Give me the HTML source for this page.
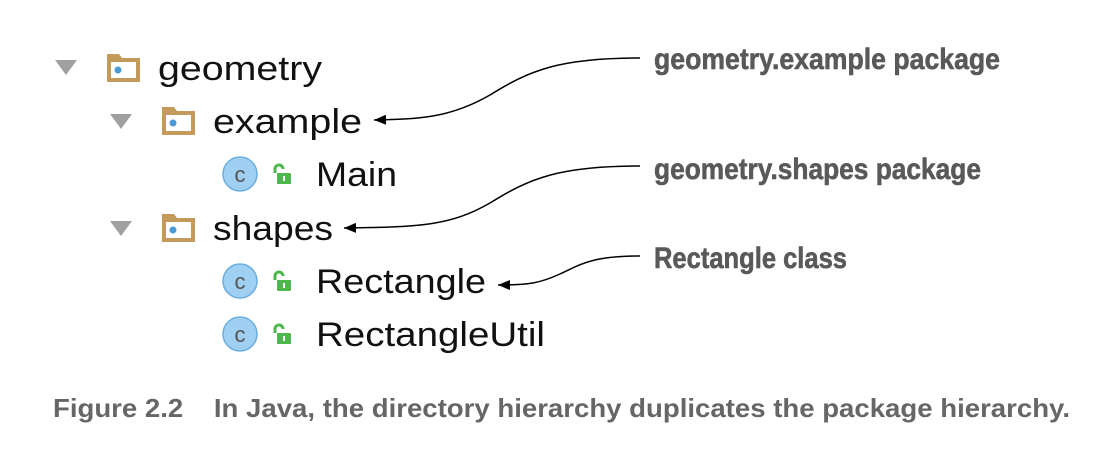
<!DOCTYPE html>
<html><head><style>html,body{margin:0;padding:0;background:#fff}</style></head>
<body>
<svg width="1116" height="446" viewBox="0 0 1116 446" xmlns="http://www.w3.org/2000/svg">
<defs>
<g id="tri"><polygon points="0,0 22,0 11,15" fill="#a0a0a0"/></g>
<g id="fold"><path d="M0,2 h12 l3,4 h18 v24 h-33 z" fill="#c49a5a"/><rect x="4" y="10" width="25" height="16" fill="#fff"/><circle cx="11" cy="18" r="3.5" fill="#4a9ad4"/></g>
<g id="cls"><circle cx="0" cy="0" r="17" fill="#9fcff2" stroke="#6aaee0" stroke-width="1.5"/><text x="0" y="8" font-family="Liberation Sans, sans-serif" font-size="22" fill="#555" text-anchor="middle">c</text>
<g transform="translate(33,-9)"><path d="M2,8 v-4 a4,4 0 0 1 8,0" fill="none" stroke="#4cb84c" stroke-width="3"/><rect x="4" y="8" width="14" height="11" rx="1" fill="#4cb84c"/><rect x="10" y="11" width="2" height="5" fill="#fff"/></g></g>
<marker id="ah" markerWidth="12" markerHeight="10" refX="12" refY="5" orient="auto" markerUnits="userSpaceOnUse"><polygon points="0,0 12,5 0,10" fill="#000"/></marker>
</defs>
<g font-family="Liberation Sans, DejaVu Sans, sans-serif" font-size="34" fill="#111">
<use href="#tri" x="55" y="60"/><use href="#fold" x="107" y="52"/>
<text x="158" y="80" textLength="164" lengthAdjust="spacingAndGlyphs">geometry</text>
<use href="#tri" x="110" y="114"/><use href="#fold" x="162" y="105"/>
<text x="213" y="133" textLength="149" lengthAdjust="spacingAndGlyphs">example</text>
<use href="#cls" x="240" y="174"/>
<text x="316" y="186" textLength="81" lengthAdjust="spacingAndGlyphs">Main</text>
<use href="#tri" x="110" y="221"/><use href="#fold" x="162" y="212"/>
<text x="213" y="240" textLength="120" lengthAdjust="spacingAndGlyphs">shapes</text>
<use href="#cls" x="240" y="281"/>
<text x="316" y="293" textLength="170" lengthAdjust="spacingAndGlyphs">Rectangle</text>
<use href="#cls" x="240" y="334"/>
<text x="316" y="346" textLength="229" lengthAdjust="spacingAndGlyphs">RectangleUtil</text>
</g>
<g fill="none" stroke="#000" stroke-width="1.5">
<path d="M640,58 C560,58 530,70 490,95 C450,118 420,119 374,120" marker-end="url(#ah)"/>
<path d="M640,166 C560,166 530,178 490,203 C450,226 420,227 344,228" marker-end="url(#ah)"/>
<path d="M640,256 C590,256 580,265 560,274 C540,283 530,285 498,285" marker-end="url(#ah)"/>
</g>
<g font-family="Liberation Sans Narrow, Liberation Sans, sans-serif" font-weight="bold" font-size="30" fill="#595959" stroke="#595959" stroke-width="0.6">
<text x="654" y="69" textLength="346" lengthAdjust="spacingAndGlyphs">geometry.example package</text>
<text x="654" y="179" textLength="327" lengthAdjust="spacingAndGlyphs">geometry.shapes package</text>
<text x="654" y="268" textLength="193" lengthAdjust="spacingAndGlyphs">Rectangle class</text>
</g>
<text x="53" y="417" font-family="Liberation Sans, sans-serif" font-weight="bold" font-size="26" fill="#666" textLength="1017" lengthAdjust="spacingAndGlyphs" xml:space="preserve">Figure 2.2    In Java, the directory hierarchy duplicates the package hierarchy.</text>
</svg>
</body></html>
